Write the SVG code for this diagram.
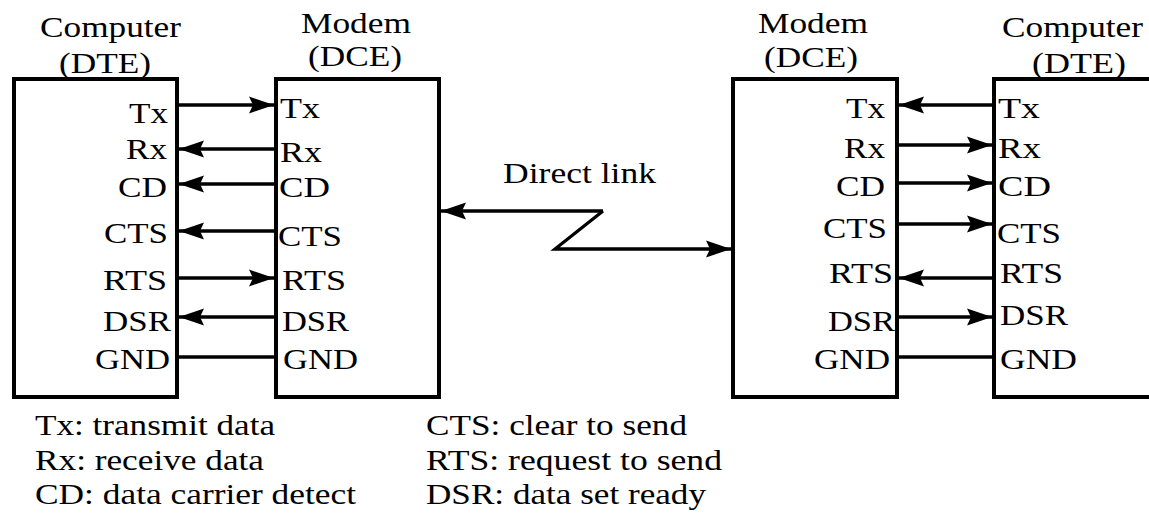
<svg xmlns="http://www.w3.org/2000/svg" width="1149" height="513" viewBox="0 0 1149 513">
  <style>
    .box { fill: #ffffff; stroke: #000000; stroke-width: 4; }
    .t { font-family: 'Liberation Serif', Tinos, 'Times New Roman', Times, serif; font-size: 30px; fill: #000000; }
    .end { text-anchor: end; }
    .wire { stroke: #000000; stroke-width: 3.3; fill: none; }
  </style>
  <defs>
    <marker id="head" viewBox="0 -9 26 18" refX="25" refY="0" markerWidth="26" markerHeight="18" markerUnits="userSpaceOnUse" orient="auto">
      <path d="M0,-8.5 L25,0 L0,8.5 L4,0 Z" fill="#000000"/>
    </marker>
  </defs>

  <rect width="1149" height="513" fill="#ffffff"/>

  <g font-family="Liberation Serif, serif">
  <!-- left computer (DTE) -->
  <g id="dte-left">
    <rect class="box" x="14" y="79" width="163" height="318"/>
    <text class="t" x="40" y="37" textLength="141" lengthAdjust="spacingAndGlyphs">Computer</text>
    <text class="t" x="59" y="73" textLength="92" lengthAdjust="spacingAndGlyphs">(DTE)</text>
    <text class="t end" x="168" y="123" textLength="39" lengthAdjust="spacingAndGlyphs">Tx</text>
    <text class="t end" x="167" y="159" textLength="41" lengthAdjust="spacingAndGlyphs">Rx</text>
    <text class="t end" x="167" y="197" textLength="49" lengthAdjust="spacingAndGlyphs">CD</text>
    <text class="t end" x="168" y="243" textLength="64" lengthAdjust="spacingAndGlyphs">CTS</text>
    <text class="t end" x="167" y="290" textLength="64" lengthAdjust="spacingAndGlyphs">RTS</text>
    <text class="t end" x="171" y="331" textLength="68" lengthAdjust="spacingAndGlyphs">DSR</text>
    <text class="t end" x="170" y="369" textLength="75" lengthAdjust="spacingAndGlyphs">GND</text>
  </g>

  <!-- left modem (DCE) -->
  <g id="dce-left">
    <rect class="box" x="276" y="79" width="163" height="318"/>
    <text class="t" x="301" y="33" textLength="110" lengthAdjust="spacingAndGlyphs">Modem</text>
    <text class="t" x="308" y="66" textLength="94" lengthAdjust="spacingAndGlyphs">(DCE)</text>
    <text class="t" x="280" y="118" textLength="40" lengthAdjust="spacingAndGlyphs">Tx</text>
    <text class="t" x="280" y="162" textLength="42" lengthAdjust="spacingAndGlyphs">Rx</text>
    <text class="t" x="279" y="197" textLength="51" lengthAdjust="spacingAndGlyphs">CD</text>
    <text class="t" x="278" y="246" textLength="64" lengthAdjust="spacingAndGlyphs">CTS</text>
    <text class="t" x="282" y="290" textLength="64" lengthAdjust="spacingAndGlyphs">RTS</text>
    <text class="t" x="282" y="331" textLength="67" lengthAdjust="spacingAndGlyphs">DSR</text>
    <text class="t" x="283" y="369" textLength="75" lengthAdjust="spacingAndGlyphs">GND</text>
  </g>

  <!-- right modem (DCE) -->
  <g id="dce-right">
    <rect class="box" x="733" y="79" width="164" height="318"/>
    <text class="t" x="758" y="33" textLength="110" lengthAdjust="spacingAndGlyphs">Modem</text>
    <text class="t" x="764" y="67" textLength="94" lengthAdjust="spacingAndGlyphs">(DCE)</text>
    <text class="t end" x="885" y="118" textLength="39" lengthAdjust="spacingAndGlyphs">Tx</text>
    <text class="t end" x="885" y="158" textLength="41" lengthAdjust="spacingAndGlyphs">Rx</text>
    <text class="t end" x="885" y="196" textLength="49" lengthAdjust="spacingAndGlyphs">CD</text>
    <text class="t end" x="887" y="238" textLength="64" lengthAdjust="spacingAndGlyphs">CTS</text>
    <text class="t end" x="893" y="283" textLength="64" lengthAdjust="spacingAndGlyphs">RTS</text>
    <text class="t end" x="895" y="331" textLength="67" lengthAdjust="spacingAndGlyphs">DSR</text>
    <text class="t end" x="890" y="369" textLength="76" lengthAdjust="spacingAndGlyphs">GND</text>
  </g>

  <!-- right computer (DTE) -->
  <g id="dte-right">
    <rect class="box" x="994" y="79" width="163" height="318"/>
    <text class="t" x="1002" y="37" textLength="141" lengthAdjust="spacingAndGlyphs">Computer</text>
    <text class="t" x="1032" y="73" textLength="94" lengthAdjust="spacingAndGlyphs">(DTE)</text>
    <text class="t" x="998" y="118" textLength="42" lengthAdjust="spacingAndGlyphs">Tx</text>
    <text class="t" x="998" y="158" textLength="43" lengthAdjust="spacingAndGlyphs">Rx</text>
    <text class="t" x="998" y="196" textLength="53" lengthAdjust="spacingAndGlyphs">CD</text>
    <text class="t" x="997" y="243" textLength="64" lengthAdjust="spacingAndGlyphs">CTS</text>
    <text class="t" x="1000" y="283" textLength="63" lengthAdjust="spacingAndGlyphs">RTS</text>
    <text class="t" x="1000" y="325" textLength="68" lengthAdjust="spacingAndGlyphs">DSR</text>
    <text class="t" x="1000" y="369" textLength="77" lengthAdjust="spacingAndGlyphs">GND</text>
  </g>

  <!-- signal wires between the boxes -->
  <g id="connectors">
    <!-- computer to modem, left side -->
    <line class="wire" x1="177" y1="105" x2="274" y2="105" marker-end="url(#head)"/>
    <line class="wire" x1="276" y1="149" x2="179" y2="149" marker-end="url(#head)"/>
    <line class="wire" x1="276" y1="184" x2="179" y2="184" marker-end="url(#head)"/>
    <line class="wire" x1="276" y1="231" x2="179" y2="231" marker-end="url(#head)"/>
    <line class="wire" x1="177" y1="278" x2="274" y2="278" marker-end="url(#head)"/>
    <line class="wire" x1="276" y1="317" x2="179" y2="317" marker-end="url(#head)"/>
    <line class="wire" x1="177" y1="357" x2="276" y2="357"/>

    <!-- modem to computer, right side -->
    <line class="wire" x1="994" y1="105" x2="899" y2="105" marker-end="url(#head)"/>
    <line class="wire" x1="897" y1="145" x2="992" y2="145" marker-end="url(#head)"/>
    <line class="wire" x1="897" y1="183" x2="992" y2="183" marker-end="url(#head)"/>
    <line class="wire" x1="897" y1="224" x2="992" y2="224" marker-end="url(#head)"/>
    <line class="wire" x1="994" y1="278" x2="899" y2="278" marker-end="url(#head)"/>
    <line class="wire" x1="897" y1="317" x2="992" y2="317" marker-end="url(#head)"/>
    <line class="wire" x1="897" y1="357" x2="994" y2="357"/>

    <!-- direct link between the modems -->
    <polyline class="wire" points="603,211 441,211" marker-end="url(#head)"/>
    <polyline class="wire" points="603,211 555,249 731,249" marker-end="url(#head)" stroke-linejoin="miter"/>
    <text class="t" x="503" y="183" textLength="153" lengthAdjust="spacingAndGlyphs">Direct link</text>
  </g>

  <!-- legend -->
  <g id="legend">
    <text class="t" x="35" y="435" textLength="240" lengthAdjust="spacingAndGlyphs">Tx: transmit data</text>
    <text class="t" x="35" y="470" textLength="229" lengthAdjust="spacingAndGlyphs">Rx: receive data</text>
    <text class="t" x="35" y="504" textLength="321" lengthAdjust="spacingAndGlyphs">CD: data carrier detect</text>
    <text class="t" x="426" y="435" textLength="261" lengthAdjust="spacingAndGlyphs">CTS: clear to send</text>
    <text class="t" x="426" y="470" textLength="296" lengthAdjust="spacingAndGlyphs">RTS: request to send</text>
    <text class="t" x="426" y="504" textLength="280" lengthAdjust="spacingAndGlyphs">DSR: data set ready</text>
  </g>
  </g>
</svg>
